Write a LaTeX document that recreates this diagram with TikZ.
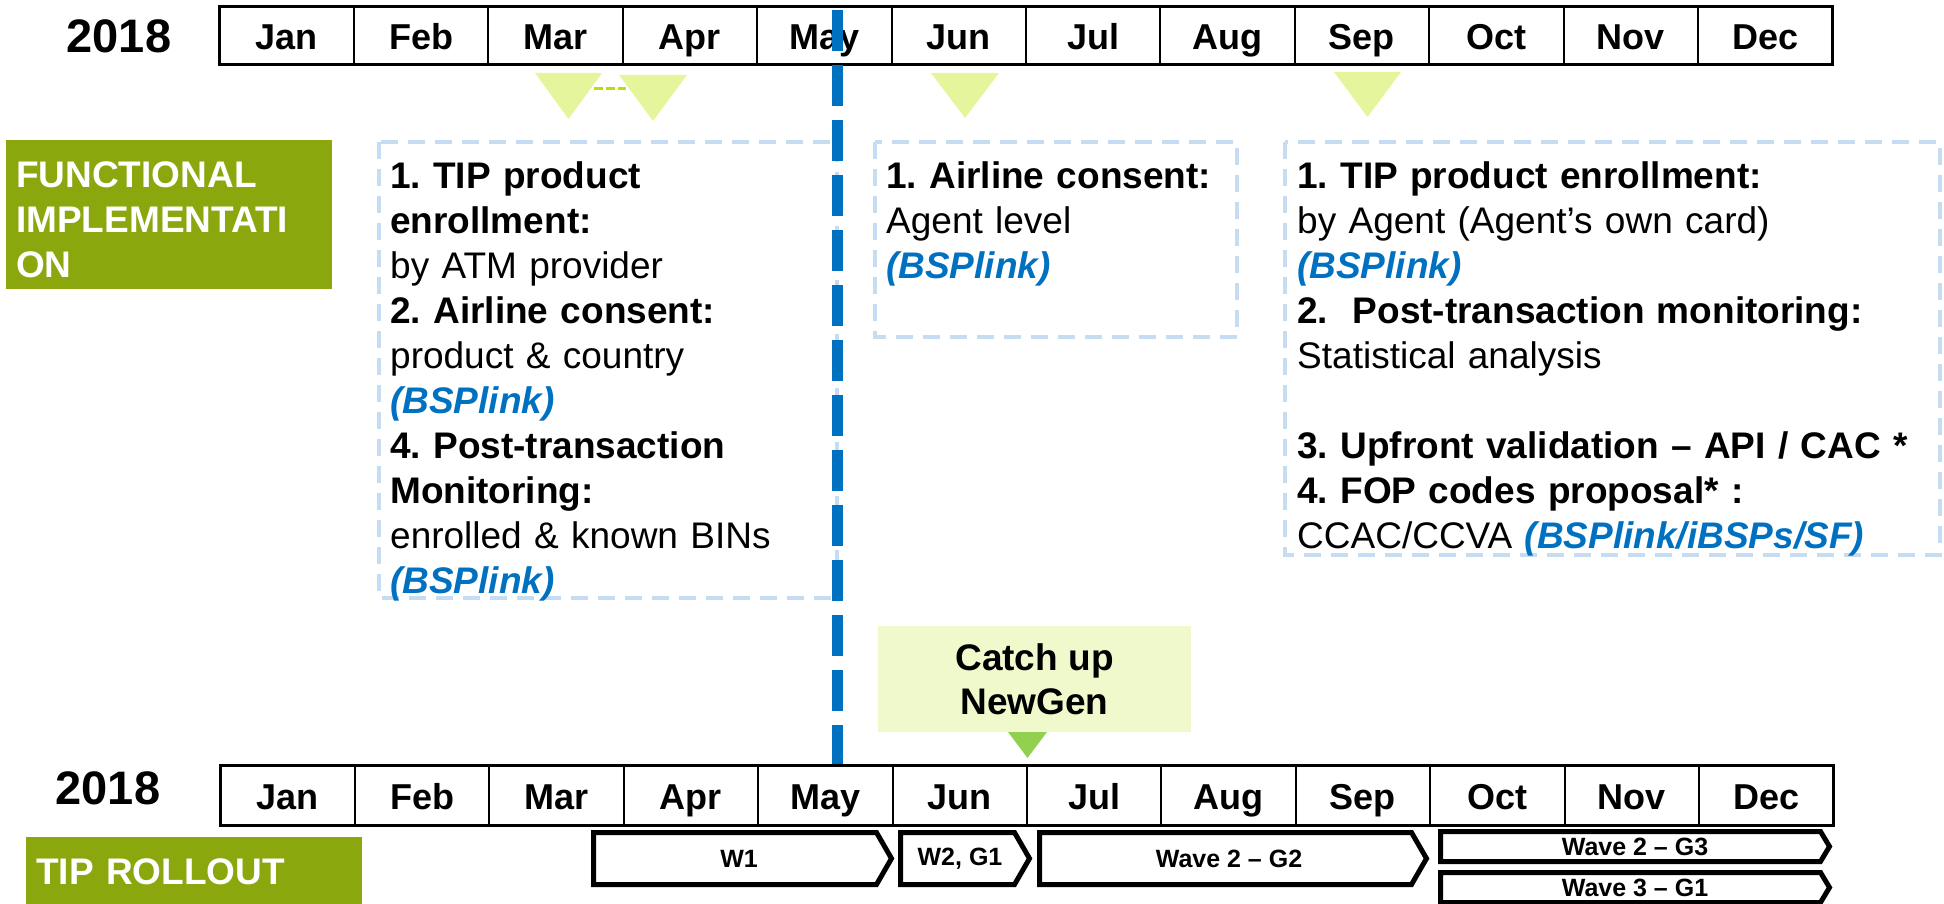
\documentclass[tikz,border=0pt]{standalone}
\usepackage{fontspec}
\setmainfont{Liberation Sans}
\frenchspacing

\definecolor{olivebar}{RGB}{138,167,14}
\definecolor{linkblue}{RGB}{0,112,192}
\definecolor{boxblue}{RGB}{197,220,242}
\definecolor{markyellow}{RGB}{229,245,155}
\definecolor{markdash}{RGB}{190,222,0}
\definecolor{catchfill}{RGB}{240,249,204}
\definecolor{catchgreen}{RGB}{146,208,80}

\newcommand{\bsp}[1]{\textcolor{linkblue}{\bfseries\itshape #1}}

\tikzset{
  monthcell/.style={draw, line width=2pt, minimum width=134.4pt, inner sep=0pt, outer sep=0pt,
    text height=30pt, text depth=3pt, font=\bfseries\fontsize{36}{40}\selectfont},
  yearlabel/.style={anchor=base, inner sep=0pt, font=\bfseries\fontsize{47}{50}\selectfont},
  infobox/.style={draw=boxblue, line width=4pt, dash pattern=on 17pt off 10pt},
  infotext/.style={anchor=base west, inner sep=0pt, text width=640pt, align=left,
    font=\fontsize{37}{45}\selectfont},
  phasetext/.style={anchor=base west, inner sep=0pt, text width=320pt, align=left,
    text=white, font=\bfseries\fontsize{37}{45}\selectfont},
  marker/.style={fill=markyellow},
  markdashline/.style={draw=markdash, line width=3pt, dash pattern=on 9pt off 3pt},
  mayline/.style={draw=linkblue, line width=11pt, dash pattern=on 41pt off 14pt},
  catchbox/.style={fill=catchfill, minimum width=313pt, minimum height=106pt, inner sep=0pt,
    align=center, font=\bfseries\fontsize{37}{44}\selectfont},
  rollbar/.style={draw, line width=5pt, fill=white},
  barlabel/.style={inner sep=0pt, font=\bfseries\fontsize{25}{28}\selectfont},
}

\begin{document}
\begin{tikzpicture}[x=1pt, y=-1pt]
  \useasboundingbox (0,0) rectangle (1944,904);
  \clip (0,0) rectangle (1944,904);

  % phase labels
  \fill[olivebar] (6,140) rectangle (332,289);
  \node[phasetext] (funclabel) at (16,188) {FUNCTIONAL\\IMPLEMENTATI\\ON};
  \fill[olivebar] (26,837) rectangle (362,910);
  \node[phasetext] (rolllabel) at (36,884) {TIP ROLLOUT};

  % functional steps
  \draw[infobox] (379,142) rectangle (837,598);
  \node[infotext] (stepsA) at (390,189) {\textbf{1. TIP product}\\ \textbf{enrollment:}\\
    by ATM provider\\ \textbf{2. Airline consent:}\\ product \& country\\ \bsp{(BSPlink)}\\
    \textbf{4. Post-transaction}\\ \textbf{Monitoring:}\\ enrolled \& known BINs\\ \bsp{(BSPlink)}};
  \draw[infobox] (875,142) rectangle (1237,337);
  \node[infotext] (stepsB) at (886,189) {\textbf{1. Airline consent:}\\ Agent level\\ \bsp{(BSPlink)}};
  \draw[infobox] (1285,142) rectangle (1940,555);
  \node[infotext] (stepsC) at (1297,189) {\textbf{1. TIP product enrollment:}\\
    by Agent (Agent’s own card)\\ \bsp{(BSPlink)}\\ \textbf{2.~ Post-transaction monitoring:}\\
    Statistical analysis\\[45pt] \textbf{3. Upfront validation – API / CAC *}\\
    \textbf{4. FOP codes proposal* :}\\ CCAC/CCVA \bsp{(BSPlink/iBSPs/SF)}};

  % top calendar
  \node[yearlabel] (yeartop) at (119,53) {2018};
  \foreach \m [count=\i from 0] in {Jan,Feb,Mar,Apr,May,Jun,Jul,Aug,Sep,Oct,Nov,Dec}
    \node[monthcell, minimum height=58pt] (top\m) at (286.7+134.4*\i,36) {\m};
  \draw[line width=3pt] (topJan.north west) rectangle (topDec.south east);

  % milestones under the top calendar
  \fill[marker] (535,73) -- (602,73) -- (568.5,119) -- cycle;
  \fill[marker] (619,75) -- (687,75) -- (653,121) -- cycle;
  \fill[marker] (931,73) -- (999,73) -- (965,118) -- cycle;
  \fill[marker] (1334,72) -- (1401,72) -- (1367.5,117) -- cycle;
  \coordinate (marend) at (594,89);
  \coordinate (aprstart) at (626,89);
  \draw[markdashline] (marend) -- (aprstart);

  % bottom calendar
  \node[yearlabel] (yearbottom) at (108,804) {2018};
  \foreach \m [count=\i from 0] in {Jan,Feb,Mar,Apr,May,Jun,Jul,Aug,Sep,Oct,Nov,Dec}
    \node[monthcell, minimum height=60pt] (bot\m) at (287.7+134.4*\i,795.5) {\m};
  \draw[line width=3pt] (botJan.north west) rectangle (botDec.south east);

  \node[catchbox] (catchup) at (1034.5,679) {Catch up\\NewGen};
  \fill[catchgreen] (1008,732) -- (1047,732) -- (1027.5,758) -- cycle;

  % rollout waves
  \draw[rollbar] (593.5,832.5) -- (876.5,832.5) -- (891.5,858.5) -- (876.5,884.5) -- (593.5,884.5) -- cycle;
  \node[barlabel] (w1) at (739,858.5) {W1};
  \draw[rollbar] (900.5,832.5) -- (1014.5,832.5) -- (1029.5,858.5) -- (1014.5,884.5) -- (900.5,884.5) -- cycle;
  \node[barlabel] (w2g1) at (960,858.5) {W2, G1};
  \draw[rollbar] (1039.5,832.5) -- (1411.5,832.5) -- (1426.5,858.5) -- (1411.5,884.5) -- (1039.5,884.5) -- cycle;
  \node[barlabel] (w2g2) at (1229,858.5) {Wave 2 – G2};
  \draw[rollbar] (1440.5,831.5) -- (1820.5,831.5) -- (1829.5,846.5) -- (1820.5,861.5) -- (1440.5,861.5) -- cycle;
  \node[barlabel] (w2g3) at (1635,846.5) {Wave 2 – G3};
  \draw[rollbar] (1440.5,872.5) -- (1820.5,872.5) -- (1829.5,887.5) -- (1820.5,902.5) -- (1440.5,902.5) -- cycle;
  \node[barlabel] (w3g1) at (1635,887.5) {Wave 3 – G1};

  % cut-over line
  \draw[mayline] (837,10) -- (837,764);
\end{tikzpicture}
\end{document}
